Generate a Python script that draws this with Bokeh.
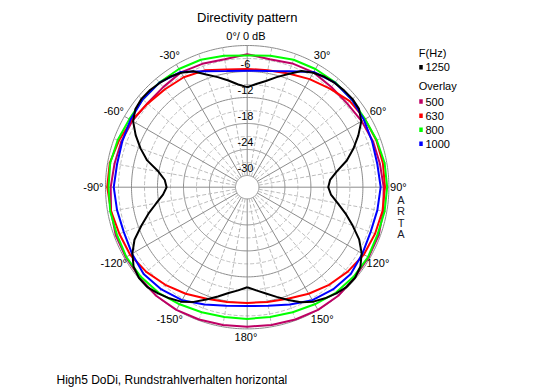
import numpy as np
from bokeh.plotting import figure
from bokeh.models import Range1d
from bokeh.embed import file_html
from bokeh.resources import INLINE
from bokeh.core.properties import value

# ---------------- data ----------------
title_text = "Directivity pattern"
caption_text = "High5 DoDi, Rundstrahlverhalten horizontal"
brand_text = ["A", "R", "T", "A"]

angle_ticks = [-150, -120, -90, -60, -30, 0, 30, 60, 90, 120, 150, 180]
angle_labels = ["-150°", "-120°", "-90°", "-60°", "-30°", "0°/ 0 dB",
                "30°", "60°", "90°", "120°", "150°", "180°"]
db_major = [0, -6, -12, -18, -24, -30]
db_minor = [-3, -9, -15, -21, -27]
db_tick_vals = [-6, -12, -18, -24, -30]
db_tick_labels = ["-6", "-12", "-18", "-24", "-30"]

main_label = "1250"
overlay_labels = ["500", "630", "800", "1000"]

# angles (deg, clockwise from front)
angles_main = list(range(-180, 185, 5))
angles_overlay = list(range(-180, 190, 10))

db_1250 = [-9.6, -8.8, -7.9, -6.6, -5.1, -3.5, -2.2, -1.4, -0.7, -0.1, -0.1, -0.7,
           -2.1, -4.0, -6.7, -9.1, -11.4, -13.2, -14.1, -13.6, -11.9, -8.8, -6.5, -4.3,
           -2.3, -1.2, -0.9, -1.0, -1.3, -1.6, -2.2, -3.2, -5.0, -6.4, -7.7, -8.9,
           -9.6,
           -8.8, -7.8, -6.4, -4.9, -3.1, -2.2, -1.6, -1.3, -1.1, -1.0, -1.2, -2.3,
           -4.4, -6.6, -8.9, -11.7, -13.5, -14.0, -13.3, -11.5, -9.2, -6.8, -4.2, -2.2,
           -0.8, -0.2, -0.2, -0.7, -1.4, -2.2, -3.4, -5.0, -6.5, -7.8, -8.8, -9.6]

db_500 = [-0.5, -0.4, -0.2, 0.0, 0.0, -0.3, -0.35, -0.4, -0.8, -1.2, -1.6, -1.8,
          -2.1, -2.6, -2.55, -2.1, -2.4, -2.7,
          -2.0,
          -2.7, -2.3, -2.1, -2.5, -2.6, -2.2, -1.8, -1.6, -1.2, -0.8, -0.4, -0.35,
          -0.3, 0.0, 0.0, -0.2, -0.4, -0.5]

db_630 = [-6.0, -5.8, -5.3, -4.3, -3.3, -2.3, -1.5, -1.3, -0.8, -0.4, -0.5, -1.2,
          -1.9, -2.7, -3.2, -3.4, -4.0, -5.1,
          -5.4,
          -5.3, -4.8, -3.9, -3.0, -1.8, -1.3, -1.0, -0.9, -0.9, -1.0, -1.3, -1.6,
          -2.4, -3.3, -4.3, -5.3, -5.8, -6.0]

db_800 = [-2.3, -2.3, -2.0, -1.5, -0.9, -0.6, -0.5, -0.7, -0.6, -0.7, -0.6, -0.9,
          -1.3, -1.2, -1.15, -1.2, -1.4, -1.9,
          -2.3,
          -1.9, -1.4, -1.2, -1.1, -1.2, -1.3, -0.9, -0.5, -0.4, -0.5, -0.7, -0.5,
          -0.6, -0.9, -1.5, -2.0, -2.3, -2.3]

db_1000 = [-5.3, -4.9, -3.9, -2.6, -1.9, -1.5, -2.0, -2.4, -2.2, -1.9, -2.2, -2.0,
           -1.6, -1.2, -1.2, -2.0, -4.2, -5.5,
           -5.8,
           -5.5, -4.2, -2.0, -1.2, -1.2, -1.6, -2.0, -2.2, -1.9, -2.2, -2.4, -2.0,
           -1.5, -1.9, -2.6, -3.9, -4.9, -5.3]

overlay_series = [db_500, db_630, db_800, db_1000]
overlay_colors = ["#BE0064", "#FF0000", "#00FF00", "#0000FF"]
main_color = "#000000"

# ---------------- geometry (style) ----------------
DB_MIN = -30.0
HOLE = 2.7            # inner hole radius in dB units
S = 130.0 / 30.0      # px per dB
CX, CY = 246.7, 186.7  # centre in page pixels
W, H = 544, 391
FONT = value("Liberation Sans")


def rad(db):
    return np.asarray(db, dtype=float) - DB_MIN + HOLE


def polar(angles_deg, r):
    t = np.radians(np.asarray(angles_deg, dtype=float))
    return r * np.sin(t), r * np.cos(t)


def ref(xr, yr):
    return (xr - CX) / S, (CY - yr) / S


p = figure(width=W, height=H, output_backend="svg", toolbar_location=None,
           x_range=Range1d((0 - CX) / S, (W - CX) / S),
           y_range=Range1d((CY - H) / S, CY / S),
           x_axis_location=None, y_axis_location=None, min_border=0)
p.grid.visible = False
p.outline_line_color = None
p.background_fill_color = "white"
p.border_fill_color = "white"

# grid rings
circ = np.linspace(0, 360, 361)
xs, ys = [], []
for d in db_minor:
    x, y = polar(circ, rad(d))
    xs.append(x); ys.append(y)
p.multi_line(xs, ys, line_color="#BDBDBD", line_width=1, line_dash="4 2")
xs, ys = [], []
for d in db_major:
    x, y = polar(circ, rad(d))
    xs.append(x); ys.append(y)
p.multi_line(xs, ys, line_color="#8C8C8C", line_width=1)

# radial lines
r_in, r_out = rad(DB_MIN), rad(0)
xs, ys = [], []
for a in range(0, 360, 10):
    if a % 30 == 0:
        continue
    x, y = polar([a, a], np.array([r_in, r_out]))
    xs.append(x); ys.append(y)
p.multi_line(xs, ys, line_color="#BDBDBD", line_width=1, line_dash="4 2")
xs, ys = [], []
for a in range(0, 360, 30):
    x, y = polar([a, a], np.array([r_in, r_out]))
    xs.append(x); ys.append(y)
p.multi_line(xs, ys, line_color="#8C8C8C", line_width=1)

# curves
for vals, col in zip(overlay_series, overlay_colors):
    x, y = polar(angles_overlay, rad(vals))
    p.line(x, y, line_color=col, line_width=2)
x, y = polar(angles_main, rad(db_1250))
p.line(x, y, line_color=main_color, line_width=2)

# dB labels
lx = [-0.4] * len(db_tick_vals)
ly = list(rad(db_tick_vals) + 1.75)
p.text(lx, ly, text=db_tick_labels, text_font=FONT, text_font_size=value("11px"),
       text_align="center", text_baseline="middle", text_color="black")

# angle labels
lab_r = np.array([35.0 if a in (0, 180) else 35.2 for a in angle_ticks])
lab_r[angle_ticks.index(180)] = 34.6
ax, ay = polar(angle_ticks, lab_r)
p.text(list(ax - 0.3), list(ay), text=angle_labels, text_font=FONT,
       text_font_size=value("11px"), text_align="center", text_baseline="middle",
       text_color="black")

# title & caption
tx, ty = ref(246.7, 16.5)
p.text([tx], [ty], text=[title_text], text_font=FONT, text_font_size=value("13px"),
       text_align="center", text_baseline="middle", text_color="black")
cx_, cy_ = ref(56, 379.5)
p.text([cx_], [cy_], text=[caption_text], text_font=FONT, text_font_size=value("12px"),
       text_align="left", text_baseline="middle", text_color="black")

# ARTA
bx = [ref(400.5, 0)[0]] * 4
by = [ref(0, yy)[1] for yy in (199, 210.5, 222, 233.5)]
p.text(bx, by, text=brand_text, text_font=FONT, text_font_size=value("11px"),
       text_align="center", text_baseline="middle", text_color="#1a1a2a")

# legend
hx, hy = ref(418.3, 52.7)
p.text([hx], [hy], text=["F(Hz)"], text_font=FONT, text_font_size=value("11px"),
       text_align="left", text_baseline="middle", text_color="black")
ox, oy = ref(418.3, 85.5)
p.text([ox], [oy], text=["Overlay"], text_font=FONT, text_font_size=value("11px"),
       text_align="left", text_baseline="middle", text_color="black")
leg_y = [66.7, 101.0, 115.3, 129.3, 143.3]
leg_labels = [main_label] + overlay_labels
leg_cols = [main_color] + overlay_colors
sq_x = [ref(420.5, 0)[0]] * 5
sq_y = [ref(0, yy)[1] for yy in leg_y]
p.rect(sq_x, sq_y, width=3.5 / S, height=4.5 / S, fill_color=leg_cols,
       line_color=None)
tx2 = [ref(425, 0)[0]] * 5
p.text(tx2, sq_y, text=leg_labels, text_font=FONT, text_font_size=value("11px"),
       text_align="left", text_baseline="middle", text_color="black")

open("out.html", "w").write(file_html(p, INLINE))
